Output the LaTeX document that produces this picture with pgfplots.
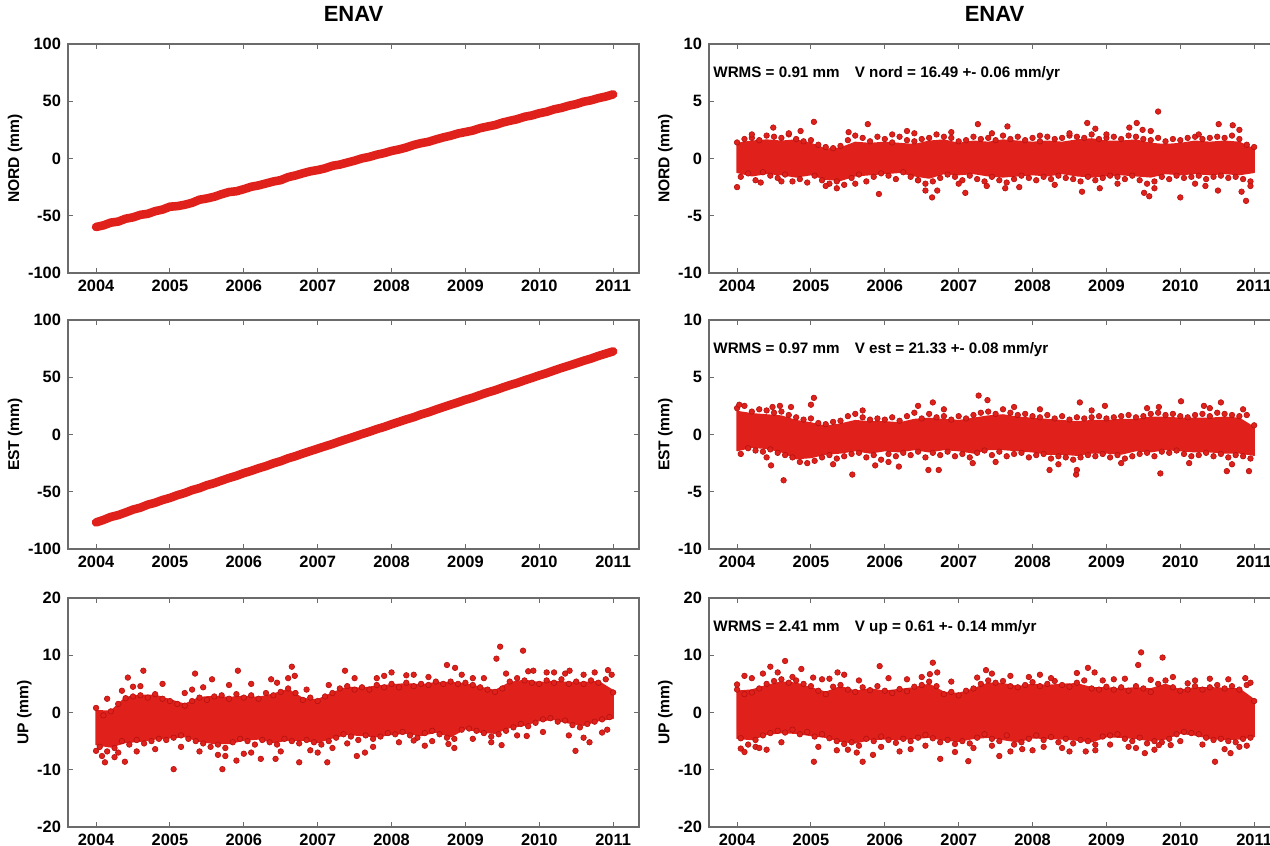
\documentclass[border=0pt]{standalone}
\usepackage{fontspec}
\setmainfont{Liberation Sans}
\usepackage{pgfplots}
\pgfplotsset{compat=1.18}
\definecolor{dotred}{HTML}{E0201B}
\definecolor{dotedge}{HTML}{B3120F}
\definecolor{axgray}{HTML}{6B6B6B}
\pgfplotsset{
  panel/.style={scale only axis,width=285.5pt,height=114.5pt,anchor=south west,
    xmin=2003.62,xmax=2011.35,xtick={2004,2005,2006,2007,2008,2009,2010,2011},
    axis line style={draw=axgray,line width=0.6pt},
    tick style={draw=axgray,line width=0.5pt},major tick length=2.5pt,tick align=inside,
    ticklabel style={font=\fontsize{8.2}{9}\selectfont\bfseries},
    /pgf/number format/assume math mode=true,/pgf/number format/1000 sep={},
    ylabel style={font=\fontsize{7.8}{9}\selectfont\bfseries,yshift=-4pt},
    title style={font=\fontsize{11}{12}\selectfont\bfseries,yshift=1.5pt}},
  trend/.style={draw=dotred,line width=4.3pt,line join=round,line cap=round},
  core/.style={fill=dotred,draw=dotred,line width=0.8pt,line join=round},
  dots/.style={only marks,mark=*,mark size=1.4pt,
    mark options={fill=dotred,draw=dotedge,line width=0.3pt}},
}
\tikzset{note/.style={anchor=west,font=\fontsize{7.6}{9}\selectfont\bfseries,inner sep=0pt}}
\begin{document}
\begin{tikzpicture}
\useasboundingbox (0,0) rectangle (635pt,423pt);

% ---- left column: raw series
\begin{axis}[panel,at={(34pt,286.5pt)},ymin=-100,ymax=100,ytick={-100,-50,0,50,100},
  ylabel={NORD (mm)},title={ENAV}]
\addplot[trend] coordinates {(2004.0,-59.8)(2004.1,-58.4)(2004.2,-56.0)(2004.3,-55.1)(2004.4,-52.6)(2004.5,-51.4)(2004.6,-49.2)(2004.7,-48.3)(2004.8,-46.0)(2004.9,-44.6)(2005.0,-42.1)(2005.1,-41.6)(2005.2,-40.4)(2005.3,-38.7)(2005.4,-36.0)(2005.5,-34.9)(2005.6,-33.4)(2005.7,-31.2)(2005.8,-29.3)(2005.9,-28.6)(2006.0,-26.8)(2006.1,-24.7)(2006.2,-23.5)(2006.3,-21.8)(2006.4,-20.1)(2006.5,-18.9)(2006.6,-16.3)(2006.7,-14.8)(2006.8,-12.9)(2006.9,-11.2)(2007.0,-10.1)(2007.1,-8.6)(2007.2,-6.4)(2007.3,-5.3)(2007.4,-3.6)(2007.5,-1.9)(2007.6,0.1)(2007.7,1.4)(2007.8,3.3)(2007.9,4.7)(2008.0,6.6)(2008.1,7.9)(2008.2,9.6)(2008.3,11.8)(2008.4,13.4)(2008.5,14.6)(2008.6,16.6)(2008.7,18.4)(2008.8,19.9)(2008.9,21.8)(2009.0,23.1)(2009.1,24.4)(2009.2,26.5)(2009.3,27.9)(2009.4,29.2)(2009.5,31.3)(2009.6,32.9)(2009.7,34.3)(2009.8,36.4)(2009.9,37.6)(2010.0,39.5)(2010.1,40.8)(2010.2,42.9)(2010.3,44.2)(2010.4,46.1)(2010.5,47.5)(2010.6,49.6)(2010.7,50.8)(2010.8,52.7)(2010.9,54.1)(2011.0,56.0)};
\end{axis}

\begin{axis}[panel,at={(34pt,148.5pt)},ymin=-100,ymax=100,ytick={-100,-50,0,50,100},
  ylabel={EST (mm)}]
\addplot[trend] coordinates {(2004.0,-76.8)(2004.1,-74.6)(2004.2,-72.0)(2004.3,-70.4)(2004.4,-68.1)(2004.5,-65.6)(2004.6,-63.9)(2004.7,-61.3)(2004.8,-59.6)(2004.9,-57.2)(2005.0,-55.4)(2005.1,-53.0)(2005.2,-51.1)(2005.3,-48.6)(2005.4,-46.8)(2005.5,-44.3)(2005.6,-42.5)(2005.7,-40.2)(2005.8,-38.0)(2005.9,-36.1)(2006.0,-33.7)(2006.1,-31.8)(2006.2,-29.5)(2006.3,-27.6)(2006.4,-25.2)(2006.5,-23.3)(2006.6,-20.8)(2006.7,-18.9)(2006.8,-16.6)(2006.9,-14.5)(2007.0,-12.4)(2007.1,-10.3)(2007.2,-8.3)(2007.3,-6.0)(2007.4,-3.9)(2007.5,-1.8)(2007.6,0.4)(2007.7,2.4)(2007.8,4.7)(2007.9,6.6)(2008.0,8.9)(2008.1,11.0)(2008.2,13.2)(2008.3,15.1)(2008.4,17.5)(2008.5,19.4)(2008.6,21.7)(2008.7,23.9)(2008.8,26.0)(2008.9,28.1)(2009.0,30.3)(2009.1,32.2)(2009.2,34.5)(2009.3,36.7)(2009.4,38.6)(2009.5,40.9)(2009.6,43.1)(2009.7,45.0)(2009.8,47.3)(2009.9,49.4)(2010.0,51.6)(2010.1,53.6)(2010.2,55.9)(2010.3,58.1)(2010.4,60.1)(2010.5,62.2)(2010.6,64.4)(2010.7,66.3)(2010.8,68.6)(2010.9,70.6)(2011.0,72.6)};
\end{axis}

\begin{axis}[panel,at={(34pt,9.5pt)},ymin=-20,ymax=20,ytick={-20,-10,0,10,20},
  ylabel={UP (mm)}]
% dense core of the daily cloud: upper edge, then lower edge back
\addplot[core] coordinates {(2004.0,0.3)(2004.2,0.2)(2004.4,2.6)(2004.6,3.0)(2004.8,3.0)(2005.0,2.2)(2005.2,1.4)(2005.4,2.6)(2005.6,2.8)(2005.8,2.6)(2006.0,2.8)(2006.2,2.6)(2006.4,3.2)(2006.6,4.0)(2006.8,2.4)(2007.0,2.2)(2007.2,3.4)(2007.4,4.4)(2007.6,4.2)(2007.8,4.6)(2008.0,4.8)(2008.2,5.0)(2008.4,4.8)(2008.6,5.2)(2008.8,5.2)(2009.0,5.0)(2009.2,4.4)(2009.4,3.8)(2009.6,5.2)(2009.8,5.6)(2010.0,5.2)(2010.2,5.4)(2010.4,5.2)(2010.6,5.2)(2010.8,5.4)(2011.0,3.8)
 (2011.0,-1.0)(2010.8,-1.4)(2010.6,-2.2)(2010.4,-1.8)(2010.2,-1.2)(2010.0,-1.4)(2009.8,-2.2)(2009.6,-2.6)(2009.4,-3.6)(2009.2,-3.4)(2009.0,-2.8)(2008.8,-4.2)(2008.6,-3.4)(2008.4,-4.0)(2008.2,-3.6)(2008.0,-3.8)(2007.8,-4.2)(2007.6,-4.0)(2007.4,-3.8)(2007.2,-4.4)(2007.0,-5.2)(2006.8,-4.8)(2006.6,-4.8)(2006.4,-5.2)(2006.2,-4.6)(2006.0,-4.8)(2005.8,-5.4)(2005.6,-5.4)(2005.4,-5.0)(2005.2,-4.2)(2005.0,-4.4)(2004.8,-4.6)(2004.6,-5.0)(2004.4,-5.2)(2004.2,-6.0)(2004.0,-5.6)} -- cycle;
\addplot[dots] coordinates {(2004.00,0.8)(2004.05,-6.0)(2004.10,-0.5)(2004.15,-6.8)(2004.20,0.2)(2004.25,-6.2)(2004.30,1.5)(2004.35,-5.0)(2004.40,2.5)(2004.45,-5.6)(2004.50,2.8)(2004.55,-4.8)(2004.60,3.0)(2004.65,-5.4)(2004.70,2.6)(2004.75,-5.0)(2004.80,3.2)(2004.85,-4.6)(2004.90,2.4)(2004.95,-4.8)(2005.00,2.0)(2005.05,-4.4)(2005.10,1.5)(2005.15,-4.0)(2005.20,1.2)(2005.25,-4.6)(2005.30,2.0)(2005.35,-5.0)(2005.40,2.6)(2005.45,-5.4)(2005.50,2.2)(2005.55,-6.0)(2005.60,2.8)(2005.65,-5.6)(2005.70,3.0)(2005.75,-6.2)(2005.80,2.4)(2005.85,-5.2)(2005.90,3.2)(2005.95,-4.6)(2006.00,2.6)(2006.05,-5.0)(2006.10,3.0)(2006.15,-5.6)(2006.20,2.4)(2006.25,-4.8)(2006.30,3.4)(2006.35,-5.2)(2006.40,3.0)(2006.45,-5.6)(2006.50,3.6)(2006.55,-4.6)(2006.60,4.2)(2006.65,-5.0)(2006.70,3.4)(2006.75,-5.4)(2006.80,2.2)(2006.85,-4.8)(2006.90,2.6)(2006.95,-5.2)(2007.00,2.0)(2007.05,-5.6)(2007.10,2.8)(2007.15,-5.0)(2007.20,3.4)(2007.25,-4.4)(2007.30,4.2)(2007.35,-3.8)(2007.40,4.6)(2007.45,-4.2)(2007.50,4.0)(2007.55,-4.8)(2007.60,4.4)(2007.65,-4.0)(2007.70,4.0)(2007.75,-4.6)(2007.80,4.8)(2007.85,-4.2)(2007.90,4.4)(2007.95,-3.6)(2008.00,5.0)(2008.05,-3.8)(2008.10,4.4)(2008.15,-3.4)(2008.20,5.2)(2008.25,-4.0)(2008.30,4.6)(2008.35,-4.4)(2008.40,5.0)(2008.45,-3.6)(2008.50,4.8)(2008.55,-3.2)(2008.60,5.4)(2008.65,-3.8)(2008.70,5.0)(2008.75,-4.4)(2008.80,5.4)(2008.85,-4.6)(2008.90,5.0)(2008.95,-3.0)(2009.00,5.2)(2009.05,-2.8)(2009.10,4.8)(2009.15,-3.2)(2009.20,4.4)(2009.25,-3.6)(2009.30,4.0)(2009.35,-4.2)(2009.40,3.6)(2009.45,-3.8)(2009.50,4.2)(2009.55,-3.2)(2009.60,5.4)(2009.65,-2.6)(2009.70,6.0)(2009.75,-2.0)(2009.80,5.6)(2009.85,-2.4)(2009.90,5.2)(2009.95,-1.8)(2010.00,5.0)(2010.05,-1.2)(2010.10,5.6)(2010.15,-1.0)(2010.20,5.2)(2010.25,-1.6)(2010.30,5.8)(2010.35,-1.4)(2010.40,5.0)(2010.45,-2.2)(2010.50,5.4)(2010.55,-2.6)(2010.60,5.0)(2010.65,-2.0)(2010.70,5.6)(2010.75,-1.6)(2010.80,5.2)(2010.85,-1.2)(2010.90,5.8)(2010.95,-0.8)(2011.00,3.5)};
\addplot[dots] coordinates {(2004.15,2.4)(2004.35,3.8)(2004.60,4.6)(2004.90,5.0)(2005.20,3.4)(2005.45,4.4)(2005.80,4.8)(2006.10,5.0)(2006.45,5.2)(2006.85,4.0)(2007.15,4.8)(2007.50,6.0)(2007.90,6.4)(2008.30,6.6)(2008.50,6.2)(2008.95,6.6)(2009.25,6.0)(2009.55,6.8)(2009.85,7.2)(2010.10,7.0)(2010.35,6.8)(2010.75,7.0)(2010.98,6.6)(2004.08,-7.6)(2004.30,-7.0)(2004.55,-6.8)(2004.80,-6.4)(2005.15,-6.0)(2005.40,-6.8)(2005.65,-7.4)(2006.10,-7.0)(2006.50,-6.8)(2006.90,-6.6)(2007.20,-6.2)(2007.40,-5.4)(2007.75,-6.0)(2008.10,-5.2)(2008.45,-5.8)(2008.85,-6.2)(2009.10,-4.6)(2009.35,-5.2)(2009.70,-4.0)(2010.05,-3.4)(2010.40,-4.0)(2010.60,-4.4)(2010.92,-3.0)};
\addplot[dots] coordinates {(2009.47,11.5)(2009.78,10.8)(2009.42,9.4)(2006.65,8.0)(2008.75,8.3)(2008.86,7.8)(2004.64,7.3)(2005.92,7.3)(2007.37,7.3)(2005.34,6.8)(2008.00,7.0)(2010.93,7.4)(2009.92,7.3)(2010.41,7.3)(2004.43,6.1)(2006.69,6.4)(2006.37,5.8)(2005.57,5.8)(2004.50,4.5)(2005.30,4.0)(2006.60,6.0)(2007.80,6.0)(2008.20,6.5)(2009.10,6.0)(2010.20,7.0)(2010.60,6.6)(2005.05,-9.9)(2005.71,-9.9)(2004.12,-8.7)(2004.39,-8.6)(2006.75,-8.7)(2007.13,-8.7)(2005.90,-8.4)(2007.53,-7.6)(2007.64,-7.0)(2004.00,-6.7)(2006.43,-8.1)(2006.23,-8.1)(2010.49,-6.7)(2010.68,-5.2)(2009.49,-5.7)(2008.77,-5.5)(2008.30,-4.9)(2009.83,-4.1)(2004.25,-7.8)(2007.00,-7.0)(2008.55,-5.0)(2010.85,-3.5)(2005.75,-7.6)(2006.00,-7.2)};
\end{axis}

% ---- right column: residuals
\begin{axis}[panel,at={(354.5pt,286.5pt)},ymin=-10,ymax=10,ytick={-10,-5,0,5,10},
  ylabel={NORD (mm)},title={ENAV}]
\addplot[core] coordinates {(2004.0,1.3)(2004.2,1.5)(2004.4,1.6)(2004.6,1.5)(2004.8,1.6)(2005.0,1.3)(2005.2,0.8)(2005.4,0.9)(2005.6,1.4)(2005.8,1.3)(2006.0,1.4)(2006.2,1.3)(2006.4,1.2)(2006.6,1.5)(2006.8,1.6)(2007.0,1.3)(2007.2,1.5)(2007.4,1.4)(2007.6,1.6)(2007.8,1.5)(2008.0,1.4)(2008.2,1.5)(2008.4,1.4)(2008.6,1.6)(2008.8,1.7)(2009.0,1.5)(2009.2,1.5)(2009.4,1.6)(2009.6,1.3)(2009.8,1.2)(2010.0,1.3)(2010.2,1.5)(2010.4,1.4)(2010.6,1.5)(2010.8,1.4)(2011.0,0.8)
 (2011.0,-1.2)(2010.8,-1.4)(2010.6,-1.3)(2010.4,-1.4)(2010.2,-1.3)(2010.0,-1.4)(2009.8,-1.3)(2009.6,-1.6)(2009.4,-1.5)(2009.2,-1.4)(2009.0,-1.5)(2008.8,-1.6)(2008.6,-1.5)(2008.4,-1.3)(2008.2,-1.5)(2008.0,-1.4)(2007.8,-1.5)(2007.6,-1.6)(2007.4,-1.5)(2007.2,-1.3)(2007.0,-1.4)(2006.8,-1.3)(2006.6,-1.7)(2006.4,-1.5)(2006.2,-1.2)(2006.0,-1.3)(2005.8,-1.4)(2005.6,-1.5)(2005.4,-1.9)(2005.2,-1.8)(2005.0,-1.4)(2004.8,-1.6)(2004.6,-1.4)(2004.4,-1.3)(2004.2,-1.5)(2004.0,-1.2)} -- cycle;
\addplot[dots] coordinates {(2004.00,1.4)(2004.05,-1.6)(2004.10,1.7)(2004.15,-1.3)(2004.20,1.8)(2004.25,-1.9)(2004.30,1.6)(2004.35,-1.2)(2004.40,2.0)(2004.45,-1.5)(2004.50,1.9)(2004.55,-1.7)(2004.60,1.8)(2004.65,-1.4)(2004.70,2.1)(2004.75,-2.0)(2004.80,1.7)(2004.85,-1.8)(2004.90,1.5)(2004.95,-2.1)(2005.00,1.6)(2005.05,-1.5)(2005.10,1.2)(2005.15,-1.9)(2005.20,1.0)(2005.25,-2.2)(2005.30,0.9)(2005.35,-2.0)(2005.40,1.1)(2005.45,-2.3)(2005.50,1.6)(2005.55,-1.7)(2005.60,2.0)(2005.65,-1.4)(2005.70,1.8)(2005.75,-2.0)(2005.80,1.5)(2005.85,-1.6)(2005.90,1.9)(2005.95,-1.3)(2006.00,1.7)(2006.05,-1.5)(2006.10,1.4)(2006.15,-1.8)(2006.20,1.9)(2006.25,-1.2)(2006.30,1.6)(2006.35,-1.6)(2006.40,1.5)(2006.45,-1.9)(2006.50,1.7)(2006.55,-2.2)(2006.60,1.8)(2006.65,-2.0)(2006.70,2.1)(2006.75,-1.7)(2006.80,1.9)(2006.85,-1.4)(2006.90,1.8)(2006.95,-1.6)(2007.00,1.5)(2007.05,-1.9)(2007.10,1.6)(2007.15,-1.5)(2007.20,1.9)(2007.25,-1.8)(2007.30,1.7)(2007.35,-2.0)(2007.40,1.8)(2007.45,-1.6)(2007.50,1.6)(2007.55,-1.9)(2007.60,2.0)(2007.65,-2.1)(2007.70,1.7)(2007.75,-1.8)(2007.80,1.9)(2007.85,-1.5)(2007.90,1.6)(2007.95,-1.7)(2008.00,1.8)(2008.05,-1.9)(2008.10,1.5)(2008.15,-1.6)(2008.20,1.9)(2008.25,-1.8)(2008.30,1.7)(2008.35,-1.5)(2008.40,1.8)(2008.45,-1.7)(2008.50,2.0)(2008.55,-1.8)(2008.60,1.9)(2008.65,-2.0)(2008.70,1.8)(2008.75,-1.6)(2008.80,2.1)(2008.85,-1.9)(2008.90,1.7)(2008.95,-1.7)(2009.00,1.8)(2009.05,-1.5)(2009.10,1.9)(2009.15,-1.6)(2009.20,1.7)(2009.25,-1.8)(2009.30,2.0)(2009.35,-1.5)(2009.40,1.9)(2009.45,-1.9)(2009.50,1.7)(2009.55,-2.2)(2009.60,1.6)(2009.65,-2.0)(2009.70,1.8)(2009.75,-1.6)(2009.80,1.5)(2009.85,-1.8)(2009.90,1.7)(2009.95,-1.5)(2010.00,1.6)(2010.05,-1.7)(2010.10,1.8)(2010.15,-1.6)(2010.20,1.9)(2010.25,-1.5)(2010.30,1.7)(2010.35,-1.8)(2010.40,1.8)(2010.45,-1.6)(2010.50,1.9)(2010.55,-1.5)(2010.60,1.8)(2010.65,-1.7)(2010.70,2.0)(2010.75,-1.6)(2010.80,1.7)(2010.85,-1.8)(2010.90,1.2)(2010.95,-2.0)(2011.00,1.0)};
\addplot[dots] coordinates {(2009.70,4.1)(2005.04,3.2)(2008.74,3.1)(2009.41,3.1)(2007.26,3.0)(2005.77,3.0)(2007.66,2.8)(2004.49,2.7)(2010.52,3.0)(2010.71,2.9)(2004.86,2.4)(2005.51,2.3)(2006.30,2.4)(2008.85,2.6)(2009.31,2.7)(2009.49,2.5)(2004.20,2.1)(2004.70,2.2)(2006.10,2.1)(2006.40,2.2)(2006.90,2.3)(2007.45,2.2)(2008.10,2.0)(2008.50,2.2)(2009.00,2.1)(2009.60,2.4)(2010.25,2.1)(2010.80,2.5)(2004.00,-2.5)(2004.32,-2.1)(2005.35,-2.6)(2005.92,-3.1)(2006.45,-1.9)(2006.55,-2.8)(2006.64,-3.4)(2006.71,-2.8)(2007.09,-3.0)(2007.38,-2.4)(2007.63,-2.6)(2007.82,-2.5)(2008.67,-2.9)(2008.91,-2.6)(2009.51,-3.0)(2009.58,-3.3)(2010.00,-3.4)(2010.34,-2.4)(2010.51,-2.8)(2010.89,-3.7)(2010.83,-2.9)(2004.60,-2.0)(2005.20,-2.4)(2005.60,-2.2)(2007.00,-2.2)(2008.30,-2.3)(2009.15,-2.2)(2009.65,-2.6)(2010.20,-2.2)(2010.95,-2.4)};
\node[note] at (rel axis cs:0.007,0.87) {WRMS = 0.91 mm\quad V nord = 16.49 +- 0.06 mm/yr};
\end{axis}

\begin{axis}[panel,at={(354.5pt,148.5pt)},ymin=-10,ymax=10,ytick={-10,-5,0,5,10},
  ylabel={EST (mm)}]
\addplot[core] coordinates {(2004.0,2.0)(2004.2,1.8)(2004.4,1.7)(2004.6,1.6)(2004.8,1.2)(2005.0,1.0)(2005.2,0.7)(2005.4,0.9)(2005.6,1.2)(2005.8,1.1)(2006.0,1.1)(2006.2,1.0)(2006.4,1.3)(2006.6,1.4)(2006.8,1.3)(2007.0,1.2)(2007.2,1.4)(2007.4,1.6)(2007.6,1.7)(2007.8,1.5)(2008.0,1.4)(2008.2,1.3)(2008.4,1.2)(2008.6,1.1)(2008.8,1.2)(2009.0,1.2)(2009.2,1.3)(2009.4,1.3)(2009.6,1.5)(2009.8,1.5)(2010.0,1.4)(2010.2,1.4)(2010.4,1.4)(2010.6,1.5)(2010.8,1.4)(2011.0,0.6)
 (2011.0,-1.8)(2010.8,-1.6)(2010.6,-1.6)(2010.4,-1.5)(2010.2,-1.5)(2010.0,-1.4)(2009.8,-1.3)(2009.6,-1.5)(2009.4,-1.4)(2009.2,-1.7)(2009.0,-1.6)(2008.8,-1.6)(2008.6,-1.8)(2008.4,-1.7)(2008.2,-1.7)(2008.0,-1.5)(2007.8,-1.4)(2007.6,-1.3)(2007.4,-1.3)(2007.2,-1.6)(2007.0,-1.4)(2006.8,-1.3)(2006.6,-1.5)(2006.4,-1.3)(2006.2,-1.5)(2006.0,-1.4)(2005.8,-1.6)(2005.6,-1.4)(2005.4,-1.6)(2005.2,-1.7)(2005.0,-2.0)(2004.8,-2.1)(2004.6,-1.5)(2004.4,-1.2)(2004.2,-1.1)(2004.0,-1.4)} -- cycle;
\addplot[dots] coordinates {(2004.00,2.3)(2004.05,-1.7)(2004.10,2.5)(2004.15,-1.2)(2004.20,2.0)(2004.25,-1.4)(2004.30,2.2)(2004.35,-1.5)(2004.40,2.1)(2004.45,-1.3)(2004.50,1.9)(2004.55,-1.6)(2004.60,2.0)(2004.65,-1.8)(2004.70,1.7)(2004.75,-2.0)(2004.80,1.5)(2004.85,-2.4)(2004.90,1.3)(2004.95,-2.5)(2005.00,1.4)(2005.05,-2.3)(2005.10,1.0)(2005.15,-2.0)(2005.20,0.9)(2005.25,-1.8)(2005.30,1.1)(2005.35,-2.1)(2005.40,1.2)(2005.45,-1.9)(2005.50,1.6)(2005.55,-1.7)(2005.60,1.8)(2005.65,-1.6)(2005.70,1.5)(2005.75,-2.0)(2005.80,1.3)(2005.85,-1.8)(2005.90,1.4)(2005.95,-2.2)(2006.00,1.3)(2006.05,-1.7)(2006.10,1.5)(2006.15,-1.9)(2006.20,1.2)(2006.25,-1.6)(2006.30,1.6)(2006.35,-1.8)(2006.40,1.9)(2006.45,-1.5)(2006.50,1.4)(2006.55,-2.0)(2006.60,1.8)(2006.65,-1.6)(2006.70,1.5)(2006.75,-1.8)(2006.80,1.6)(2006.85,-1.5)(2006.90,1.3)(2006.95,-1.9)(2007.00,1.6)(2007.05,-1.7)(2007.10,1.4)(2007.15,-2.0)(2007.20,1.7)(2007.25,-1.6)(2007.30,1.9)(2007.35,-1.4)(2007.40,2.0)(2007.45,-1.8)(2007.50,1.8)(2007.55,-1.5)(2007.60,2.2)(2007.65,-1.9)(2007.70,1.9)(2007.75,-1.7)(2007.80,1.7)(2007.85,-1.6)(2007.90,1.8)(2007.95,-2.0)(2008.00,1.6)(2008.05,-1.8)(2008.10,1.5)(2008.15,-1.7)(2008.20,1.7)(2008.25,-2.1)(2008.30,1.4)(2008.35,-1.9)(2008.40,1.6)(2008.45,-2.0)(2008.50,1.3)(2008.55,-2.2)(2008.60,1.5)(2008.65,-2.0)(2008.70,1.4)(2008.75,-1.8)(2008.80,1.5)(2008.85,-1.9)(2008.90,1.6)(2008.95,-1.7)(2009.00,1.4)(2009.05,-2.0)(2009.10,1.5)(2009.15,-1.8)(2009.20,1.6)(2009.25,-2.1)(2009.30,1.7)(2009.35,-1.9)(2009.40,1.5)(2009.45,-1.7)(2009.50,1.6)(2009.55,-1.6)(2009.60,1.8)(2009.65,-1.9)(2009.70,1.9)(2009.75,-1.5)(2009.80,1.7)(2009.85,-1.6)(2009.90,1.8)(2009.95,-1.4)(2010.00,1.6)(2010.05,-1.7)(2010.10,1.5)(2010.15,-1.9)(2010.20,1.7)(2010.25,-1.8)(2010.30,1.8)(2010.35,-1.6)(2010.40,1.6)(2010.45,-1.9)(2010.50,1.9)(2010.55,-1.7)(2010.60,1.8)(2010.65,-2.0)(2010.70,1.7)(2010.75,-1.8)(2010.80,1.6)(2010.85,-1.9)(2010.90,1.7)(2010.95,-2.1)(2011.00,0.8)};
\addplot[dots] coordinates {(2007.27,3.4)(2007.39,3.0)(2005.04,3.2)(2005.00,2.6)(2004.48,2.4)(2004.58,2.5)(2004.73,2.4)(2006.45,2.5)(2006.65,2.8)(2008.64,2.8)(2008.98,2.5)(2010.01,2.9)(2010.55,2.8)(2010.32,2.5)(2009.71,2.4)(2004.03,2.6)(2005.70,2.1)(2006.80,2.2)(2007.75,2.4)(2008.10,2.2)(2008.80,2.1)(2009.55,2.3)(2010.40,2.3)(2010.85,2.2)(2004.63,-4.0)(2004.46,-2.7)(2005.56,-3.5)(2006.59,-3.1)(2006.73,-3.1)(2007.19,-2.5)(2008.59,-3.5)(2008.60,-3.1)(2008.23,-3.1)(2009.73,-3.4)(2010.63,-3.2)(2010.93,-3.2)(2005.87,-2.7)(2006.19,-2.8)(2010.12,-2.5)(2004.40,-2.0)(2005.30,-2.6)(2006.05,-2.4)(2007.50,-2.4)(2008.35,-2.6)(2009.20,-2.5)(2010.70,-2.6)};
\node[note] at (rel axis cs:0.007,0.87) {WRMS = 0.97 mm\quad V est = 21.33 +- 0.08 mm/yr};
\end{axis}

\begin{axis}[panel,at={(354.5pt,9.5pt)},ymin=-20,ymax=20,ytick={-20,-10,0,10,20},
  ylabel={UP (mm)}]
\addplot[core] coordinates {(2004.0,3.7)(2004.2,3.9)(2004.4,4.7)(2004.6,5.3)(2004.8,5.1)(2005.0,4.3)(2005.2,3.5)(2005.4,4.5)(2005.6,3.7)(2005.8,4.1)(2006.0,3.7)(2006.2,4.0)(2006.4,4.3)(2006.6,4.9)(2006.8,3.5)(2007.0,3.3)(2007.2,4.1)(2007.4,5.1)(2007.6,5.0)(2007.8,4.5)(2008.0,4.9)(2008.2,4.7)(2008.4,4.9)(2008.6,5.0)(2008.8,4.3)(2009.0,4.3)(2009.2,4.1)(2009.4,4.3)(2009.6,4.1)(2009.8,4.9)(2010.0,3.9)(2010.2,4.3)(2010.4,4.3)(2010.6,4.2)(2010.8,4.1)(2011.0,2.2)
 (2011.0,-4.2)(2010.8,-4.6)(2010.6,-4.7)(2010.4,-4.5)(2010.2,-3.9)(2010.0,-3.6)(2009.8,-4.6)(2009.6,-4.9)(2009.4,-4.5)(2009.2,-4.3)(2009.0,-4.2)(2008.8,-5.1)(2008.6,-4.8)(2008.4,-4.6)(2008.2,-4.5)(2008.0,-4.4)(2007.8,-5.1)(2007.6,-4.7)(2007.4,-4.3)(2007.2,-4.5)(2007.0,-5.0)(2006.8,-4.8)(2006.6,-4.3)(2006.4,-4.5)(2006.2,-4.7)(2006.0,-4.6)(2005.8,-4.7)(2005.6,-5.3)(2005.4,-5.0)(2005.2,-4.3)(2005.0,-4.0)(2004.8,-3.6)(2004.6,-3.5)(2004.4,-3.8)(2004.2,-4.7)(2004.0,-4.5)} -- cycle;
\addplot[dots] coordinates {(2004.00,4.0)(2004.05,-4.5)(2004.10,3.2)(2004.15,-5.6)(2004.20,3.5)(2004.25,-4.8)(2004.30,4.2)(2004.35,-4.0)(2004.40,5.0)(2004.45,-3.6)(2004.50,5.5)(2004.55,-3.2)(2004.60,5.8)(2004.65,-3.5)(2004.70,5.2)(2004.75,-3.0)(2004.80,5.6)(2004.85,-3.8)(2004.90,5.0)(2004.95,-3.4)(2005.00,4.6)(2005.05,-4.2)(2005.10,3.8)(2005.15,-3.8)(2005.20,3.2)(2005.25,-4.5)(2005.30,4.5)(2005.35,-5.0)(2005.40,4.8)(2005.45,-5.5)(2005.50,4.0)(2005.55,-5.2)(2005.60,3.6)(2005.65,-5.8)(2005.70,4.4)(2005.75,-4.6)(2005.80,3.9)(2005.85,-5.0)(2005.90,4.6)(2005.95,-4.2)(2006.00,3.8)(2006.05,-4.8)(2006.10,3.4)(2006.15,-5.3)(2006.20,4.1)(2006.25,-4.6)(2006.30,3.7)(2006.35,-5.0)(2006.40,4.5)(2006.45,-4.4)(2006.50,4.8)(2006.55,-3.9)(2006.60,5.4)(2006.65,-4.5)(2006.70,4.6)(2006.75,-5.2)(2006.80,3.2)(2006.85,-4.8)(2006.90,3.6)(2006.95,-5.5)(2007.00,3.0)(2007.05,-5.0)(2007.10,3.8)(2007.15,-5.4)(2007.20,4.2)(2007.25,-4.4)(2007.30,5.0)(2007.35,-3.8)(2007.40,5.6)(2007.45,-4.6)(2007.50,5.2)(2007.55,-5.0)(2007.60,5.5)(2007.65,-4.0)(2007.70,4.6)(2007.75,-5.6)(2007.80,4.4)(2007.85,-5.2)(2007.90,4.8)(2007.95,-4.6)(2008.00,5.3)(2008.05,-4.0)(2008.10,4.6)(2008.15,-4.8)(2008.20,5.0)(2008.25,-4.3)(2008.30,5.5)(2008.35,-5.2)(2008.40,4.8)(2008.45,-4.6)(2008.50,4.5)(2008.55,-5.4)(2008.60,5.2)(2008.65,-4.8)(2008.70,5.6)(2008.75,-5.0)(2008.80,4.2)(2008.85,-5.6)(2008.90,4.0)(2008.95,-4.2)(2009.00,4.5)(2009.05,-4.0)(2009.10,4.0)(2009.15,-3.8)(2009.20,4.4)(2009.25,-4.6)(2009.30,3.8)(2009.35,-5.0)(2009.40,4.6)(2009.45,-4.4)(2009.50,4.2)(2009.55,-5.4)(2009.60,3.6)(2009.65,-5.0)(2009.70,5.0)(2009.75,-5.2)(2009.80,5.6)(2009.85,-4.6)(2009.90,4.4)(2009.95,-3.8)(2010.00,3.8)(2010.05,-3.4)(2010.10,4.0)(2010.15,-3.6)(2010.20,4.6)(2010.25,-3.8)(2010.30,4.0)(2010.35,-4.4)(2010.40,4.4)(2010.45,-4.8)(2010.50,4.8)(2010.55,-4.6)(2010.60,4.2)(2010.65,-5.0)(2010.70,4.6)(2010.75,-5.2)(2010.80,4.0)(2010.85,-4.6)(2010.90,4.8)(2010.95,-4.4)(2011.00,2.0)};
\addplot[dots] coordinates {(2004.10,6.4)(2004.35,6.8)(2004.55,7.0)(2004.75,6.2)(2005.25,5.9)(2005.45,6.6)(2005.65,5.6)(2006.05,6.0)(2006.50,6.2)(2006.90,5.4)(2007.25,6.1)(2007.45,6.8)(2007.95,6.2)(2008.25,6.0)(2008.60,6.9)(2008.95,5.6)(2009.25,5.9)(2009.60,5.7)(2009.90,6.2)(2010.10,5.1)(2010.40,5.9)(2010.65,5.8)(2010.88,6.0)(2004.05,-6.3)(2004.25,-6.0)(2004.60,-5.2)(2005.10,-6.0)(2005.35,-6.6)(2005.62,-7.0)(2005.95,-6.0)(2006.35,-6.4)(2006.55,-5.8)(2006.95,-6.9)(2007.20,-6.2)(2007.45,-5.8)(2007.70,-6.8)(2008.15,-6.0)(2008.50,-6.8)(2008.85,-6.6)(2009.05,-5.6)(2009.40,-6.2)(2009.65,-6.5)(2010.00,-5.0)(2010.30,-5.6)(2010.60,-6.4)(2010.90,-5.8)};
\addplot[dots] coordinates {(2009.47,10.5)(2009.76,9.6)(2009.43,8.3)(2004.65,9.0)(2004.45,8.0)(2004.87,7.6)(2005.93,8.1)(2006.65,8.7)(2008.75,7.8)(2008.84,7.0)(2007.37,7.4)(2005.36,7.0)(2006.61,6.7)(2006.71,7.0)(2004.00,4.9)(2005.03,6.1)(2004.20,6.0)(2005.15,5.8)(2006.30,5.8)(2007.70,6.4)(2008.10,6.6)(2009.10,5.8)(2010.20,5.6)(2010.95,5.2)(2005.04,-8.6)(2005.70,-8.6)(2005.84,-7.4)(2006.75,-8.1)(2007.13,-8.5)(2007.55,-7.6)(2010.47,-8.6)(2009.52,-7.1)(2010.68,-7.1)(2004.10,-6.9)(2004.40,-6.5)(2007.86,-6.4)(2008.72,-6.8)(2009.71,-5.7)(2009.87,-5.7)(2004.30,-6.2)(2005.50,-6.5)(2006.20,-6.8)(2008.00,-6.6)(2008.40,-6.2)(2009.30,-6.0)(2010.80,-6.0)};
\node[note] at (rel axis cs:0.007,0.87) {WRMS = 2.41 mm\quad V up = 0.61 +- 0.14 mm/yr};
\end{axis}
\end{tikzpicture}
\end{document}
